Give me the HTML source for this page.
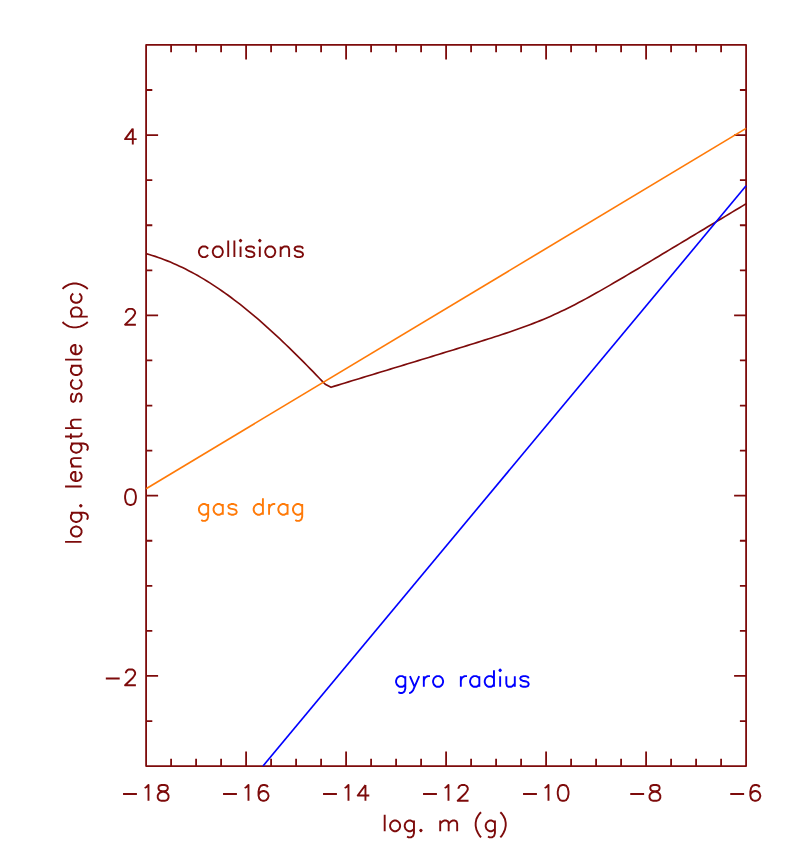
<!DOCTYPE html>
<html><head><meta charset="utf-8"><title>plot</title>
<style>html,body{margin:0;padding:0;background:#fff;font-family:"Liberation Sans",sans-serif}</style></head>
<body>
<svg width="789" height="859" viewBox="0 0 789 859" style="display:block">
<rect width="789" height="859" fill="#fff"/>
<g fill="none" stroke-width="1.9" stroke-linecap="butt" stroke-linejoin="round">
<path d="M146.1 44.95 H746.1 V766.1 H146.1 Z M146.10 766.1 v-14.6 M146.10 44.95 v14.6 M171.10 766.1 v-7.4 M171.10 44.95 v7.4 M196.10 766.1 v-7.4 M196.10 44.95 v7.4 M221.10 766.1 v-7.4 M221.10 44.95 v7.4 M246.10 766.1 v-14.6 M246.10 44.95 v14.6 M271.10 766.1 v-7.4 M271.10 44.95 v7.4 M296.10 766.1 v-7.4 M296.10 44.95 v7.4 M321.10 766.1 v-7.4 M321.10 44.95 v7.4 M346.10 766.1 v-14.6 M346.10 44.95 v14.6 M371.10 766.1 v-7.4 M371.10 44.95 v7.4 M396.10 766.1 v-7.4 M396.10 44.95 v7.4 M421.10 766.1 v-7.4 M421.10 44.95 v7.4 M446.10 766.1 v-14.6 M446.10 44.95 v14.6 M471.10 766.1 v-7.4 M471.10 44.95 v7.4 M496.10 766.1 v-7.4 M496.10 44.95 v7.4 M521.10 766.1 v-7.4 M521.10 44.95 v7.4 M546.10 766.1 v-14.6 M546.10 44.95 v14.6 M571.10 766.1 v-7.4 M571.10 44.95 v7.4 M596.10 766.1 v-7.4 M596.10 44.95 v7.4 M621.10 766.1 v-7.4 M621.10 44.95 v7.4 M646.10 766.1 v-14.6 M646.10 44.95 v14.6 M671.10 766.1 v-7.4 M671.10 44.95 v7.4 M696.10 766.1 v-7.4 M696.10 44.95 v7.4 M721.10 766.1 v-7.4 M721.10 44.95 v7.4 M746.10 766.1 v-14.6 M746.10 44.95 v14.6 M146.1 766.10 h6.2 M746.1 766.10 h-6.2 M146.1 721.03 h6.2 M746.1 721.03 h-6.2 M146.1 675.96 h12.0 M746.1 675.96 h-12.0 M146.1 630.88 h6.2 M746.1 630.88 h-6.2 M146.1 585.81 h6.2 M746.1 585.81 h-6.2 M146.1 540.74 h6.2 M746.1 540.74 h-6.2 M146.1 495.67 h12.0 M746.1 495.67 h-12.0 M146.1 450.60 h6.2 M746.1 450.60 h-6.2 M146.1 405.53 h6.2 M746.1 405.53 h-6.2 M146.1 360.45 h6.2 M746.1 360.45 h-6.2 M146.1 315.38 h12.0 M746.1 315.38 h-12.0 M146.1 270.31 h6.2 M746.1 270.31 h-6.2 M146.1 225.24 h6.2 M746.1 225.24 h-6.2 M146.1 180.17 h6.2 M746.1 180.17 h-6.2 M146.1 135.09 h12.0 M746.1 135.09 h-12.0 M146.1 90.02 h6.2 M746.1 90.02 h-6.2 M146.1 44.95 h6.2 M746.1 44.95 h-6.2" stroke="#7d0b0b" stroke-width="1.8"/>
<path d="M146.10 253.60 L149.14 254.48 L152.17 255.42 L155.21 256.40 L158.24 257.44 L161.28 258.53 L164.31 259.67 L167.35 260.86 L170.38 262.10 L173.42 263.40 L176.46 264.74 L179.49 266.14 L182.53 267.59 L185.56 269.09 L188.60 270.64 L191.63 272.24 L194.67 273.89 L197.71 275.59 L200.74 277.34 L203.78 279.14 L206.81 280.99 L209.85 282.89 L212.88 284.84 L215.92 286.84 L218.95 288.88 L221.99 290.97 L225.03 293.11 L228.06 295.29 L231.10 297.52 L234.13 299.79 L237.17 302.11 L240.20 304.47 L243.24 306.87 L246.27 309.32 L249.31 311.80 L252.35 314.33 L255.38 316.89 L258.42 319.49 L261.45 322.13 L264.49 324.81 L267.52 327.52 L270.56 330.27 L273.59 333.05 L276.63 335.86 L279.67 338.71 L282.70 341.58 L285.74 344.48 L288.77 347.41 L291.81 350.37 L294.84 353.35 L297.88 356.36 L300.92 359.38 L303.95 362.43 L306.99 365.50 L310.02 368.59 L313.06 371.69 L316.09 374.81 L319.13 377.95 L322.16 381.09 L325.20 384.28 L331.04 387.30 L334.53 386.15 L338.02 385.09 L341.50 384.02 L344.99 382.96 L348.48 381.89 L351.97 380.83 L355.46 379.77 L358.94 378.70 L362.43 377.64 L365.92 376.58 L369.41 375.51 L372.89 374.45 L376.38 373.39 L379.87 372.32 L383.36 371.26 L386.85 370.20 L390.33 369.13 L393.82 368.07 L397.31 367.00 L400.80 365.94 L404.29 364.87 L407.77 363.81 L411.26 362.74 L414.75 361.68 L418.24 360.61 L421.73 359.55 L425.21 358.48 L428.70 357.42 L432.19 356.35 L435.68 355.28 L439.16 354.21 L442.65 353.14 L446.14 352.07 L449.63 351.00 L453.12 349.93 L456.60 348.85 L460.09 347.77 L463.58 346.70 L467.07 345.61 L470.56 344.53 L474.04 343.44 L477.53 342.35 L481.02 341.25 L484.51 340.15 L488.00 339.04 L491.48 337.92 L494.97 336.80 L498.46 335.66 L501.95 334.51 L505.43 333.36 L508.92 332.18 L512.41 330.99 L515.90 329.78 L519.39 328.55 L522.87 327.30 L526.36 326.02 L529.85 324.72 L533.34 323.38 L536.83 322.01 L540.31 320.61 L543.80 319.17 L547.29 317.69 L550.78 316.17 L554.27 314.61 L557.75 313.01 L561.24 311.37 L564.73 309.69 L568.22 307.97 L571.71 306.22 L575.19 304.43 L578.68 302.60 L582.17 300.75 L585.66 298.87 L589.14 296.96 L592.63 295.03 L596.12 293.08 L599.61 291.11 L603.10 289.12 L606.58 287.12 L610.07 285.10 L613.56 283.08 L617.05 281.04 L620.54 278.99 L624.02 276.94 L627.51 274.88 L631.00 272.82 L634.49 270.75 L637.98 268.67 L641.46 266.60 L644.95 264.51 L648.44 262.43 L651.93 260.35 L655.41 258.26 L658.90 256.17 L662.39 254.08 L665.88 251.99 L669.37 249.89 L672.85 247.80 L676.34 245.70 L679.83 243.61 L683.32 241.51 L686.81 239.42 L690.29 237.32 L693.78 235.22 L697.27 233.12 L700.76 231.03 L704.25 228.93 L707.73 226.83 L711.22 224.73 L714.71 222.63 L718.20 220.53 L721.68 218.44 L725.17 216.34 L728.66 214.24 L732.15 212.14 L735.64 210.04 L739.12 207.94 L742.61 205.84 L746.10 203.74" stroke="#7d0b0b" stroke-width="1.65"/>
<path d="M146.1 488.7 L746.1 128.4" stroke="#ff7a08" stroke-width="1.65"/>
<path d="M263 766 L746.1 185.8" stroke="#0000ff" stroke-width="1.65"/>
<path d="M123.04 794.02 L136.92 794.02 M144.63 788.00 L146.17 787.25 L148.48 784.99 L148.48 800.80 M161.59 784.99 L159.28 785.74 L158.51 787.25 L158.51 788.75 L159.28 790.26 L160.82 791.01 L163.90 791.76 L166.22 792.52 L167.76 794.02 L168.53 795.53 L168.53 797.79 L167.76 799.29 L166.99 800.05 L164.68 800.80 L161.59 800.80 L159.28 800.05 L158.51 799.29 L157.74 797.79 L157.74 795.53 L158.51 794.02 L160.05 792.52 L162.36 791.76 L165.45 791.01 L166.99 790.26 L167.76 788.75 L167.76 787.25 L166.99 785.74 L164.68 784.99 L161.59 784.99 Z M223.04 794.02 L236.92 794.02 M244.63 788.00 L246.17 787.25 L248.48 784.99 L248.48 800.80 M267.76 787.25 L266.99 785.74 L264.68 784.99 L263.13 784.99 L260.82 785.74 L259.28 788.00 L258.51 791.76 L258.51 795.53 L259.28 798.54 L260.82 800.05 L263.13 800.80 L263.90 800.80 L266.22 800.05 L267.76 798.54 L268.53 796.28 L268.53 795.53 L267.76 793.27 L266.22 791.76 L263.90 791.01 L263.13 791.01 L260.82 791.76 L259.28 793.27 L258.51 795.53 M323.04 794.02 L336.92 794.02 M344.63 788.00 L346.17 787.25 L348.48 784.99 L348.48 800.80 M365.45 784.99 L357.74 795.53 L369.30 795.53 M365.45 784.99 L365.45 800.80 M423.04 794.02 L436.92 794.02 M444.63 788.00 L446.17 787.25 L448.48 784.99 L448.48 800.80 M458.51 788.75 L458.51 788.00 L459.28 786.49 L460.05 785.74 L461.59 784.99 L464.68 784.99 L466.22 785.74 L466.99 786.49 L467.76 788.00 L467.76 789.50 L466.99 791.01 L465.45 793.27 L457.74 800.80 L468.53 800.80 M523.04 794.02 L536.92 794.02 M544.63 788.00 L546.17 787.25 L548.48 784.99 L548.48 800.80 M562.36 784.99 L560.05 785.74 L558.51 788.00 L557.74 791.76 L557.74 794.02 L558.51 797.79 L560.05 800.05 L562.36 800.80 L563.90 800.80 L566.22 800.05 L567.76 797.79 L568.53 794.02 L568.53 791.76 L567.76 788.00 L566.22 785.74 L563.90 784.99 L562.36 784.99 Z M630.25 794.02 L644.13 794.02 M653.38 784.99 L651.07 785.74 L650.30 787.25 L650.30 788.75 L651.07 790.26 L652.61 791.01 L655.69 791.76 L658.01 792.52 L659.55 794.02 L660.32 795.53 L660.32 797.79 L659.55 799.29 L658.78 800.05 L656.47 800.80 L653.38 800.80 L651.07 800.05 L650.30 799.29 L649.53 797.79 L649.53 795.53 L650.30 794.02 L651.84 792.52 L654.15 791.76 L657.24 791.01 L658.78 790.26 L659.55 788.75 L659.55 787.25 L658.78 785.74 L656.47 784.99 L653.38 784.99 Z M730.25 794.02 L744.13 794.02 M759.55 787.25 L758.78 785.74 L756.47 784.99 L754.92 784.99 L752.61 785.74 L751.07 788.00 L750.30 791.76 L750.30 795.53 L751.07 798.54 L752.61 800.05 L754.92 800.80 L755.69 800.80 L758.01 800.05 L759.55 798.54 L760.32 796.28 L760.32 795.53 L759.55 793.27 L758.01 791.76 L755.69 791.01 L754.92 791.01 L752.61 791.76 L751.07 793.27 L750.30 795.53 M132.80 128.58 L125.09 139.12 L136.66 139.12 M132.80 128.58 L132.80 144.39 M125.86 312.63 L125.86 311.88 L126.63 310.37 L127.41 309.62 L128.95 308.87 L132.03 308.87 L133.57 309.62 L134.34 310.37 L135.12 311.88 L135.12 313.39 L134.34 314.89 L132.80 317.15 L125.09 324.68 L135.89 324.68 M129.72 489.16 L127.41 489.91 L125.86 492.17 L125.09 495.93 L125.09 498.19 L125.86 501.96 L127.41 504.22 L129.72 504.97 L131.26 504.97 L133.57 504.22 L135.12 501.96 L135.89 498.19 L135.89 495.93 L135.12 492.17 L133.57 489.91 L131.26 489.16 L129.72 489.16 Z M105.82 678.48 L119.70 678.48 M125.86 673.21 L125.86 672.46 L126.63 670.95 L127.41 670.20 L128.95 669.44 L132.03 669.44 L133.57 670.20 L134.34 670.95 L135.12 672.46 L135.12 673.96 L134.34 675.47 L132.80 677.73 L125.09 685.26 L135.89 685.26 M384.68 814.71 L384.68 831.20 M393.94 820.56 L392.39 821.32 L390.85 822.84 L390.08 825.12 L390.08 826.64 L390.85 828.92 L392.39 830.44 L393.94 831.20 L396.25 831.20 L397.79 830.44 L399.33 828.92 L400.10 826.64 L400.10 825.12 L399.33 822.84 L397.79 821.32 L396.25 820.56 L393.94 820.56 Z M413.98 820.56 L413.98 832.98 L413.21 835.65 L412.44 836.54 L410.90 837.42 L408.59 837.42 L407.04 836.54 M413.98 822.84 L412.44 821.32 L410.90 820.56 L408.59 820.56 L407.04 821.32 L405.50 822.84 L404.73 825.12 L404.73 826.64 L405.50 828.92 L407.04 830.44 L408.59 831.20 L410.90 831.20 L412.44 830.44 L413.98 828.92 M420.92 829.68 L420.15 830.44 L420.92 831.20 L421.69 830.44 L420.92 829.68 Z M440.20 820.56 L440.20 831.20 M440.20 823.60 L442.51 821.32 L444.05 820.56 L446.36 820.56 L447.91 821.32 L448.68 823.60 L448.68 831.20 M448.68 823.60 L450.99 821.32 L452.53 820.56 L454.85 820.56 L456.39 821.32 L457.16 823.60 L457.16 831.20 M481.06 812.20 L479.52 813.72 L477.98 816.00 L476.43 819.04 L475.66 822.84 L475.66 825.88 L476.43 829.68 L477.98 832.98 L479.52 835.65 L481.06 837.42 M494.94 820.56 L494.94 832.98 L494.17 835.65 L493.40 836.54 L491.85 837.42 L489.54 837.42 L488.00 836.54 M494.94 822.84 L493.40 821.32 L491.85 820.56 L489.54 820.56 L488.00 821.32 L486.46 822.84 L485.69 825.12 L485.69 826.64 L486.46 828.92 L488.00 830.44 L489.54 831.20 L491.85 831.20 L493.40 830.44 L494.94 828.92 M500.33 812.20 L501.88 813.72 L503.42 816.00 L504.96 819.04 L505.73 822.84 L505.73 825.88 L504.96 829.68 L503.42 832.98 L501.88 835.65 L500.33 837.42 M65.06 541.92 L81.55 541.92 M70.91 532.70 L71.67 534.23 L73.19 535.77 L75.47 536.54 L76.99 536.54 L79.27 535.77 L80.79 534.23 L81.55 532.70 L81.55 530.39 L80.79 528.85 L79.27 527.31 L76.99 526.54 L75.47 526.54 L73.19 527.31 L71.67 528.85 L70.91 530.39 L70.91 532.70 Z M70.91 512.70 L83.33 512.70 L86.00 513.47 L86.89 514.24 L87.77 515.78 L87.77 518.09 L86.89 519.62 M73.19 512.70 L71.67 514.24 L70.91 515.78 L70.91 518.09 L71.67 519.62 L73.19 521.16 L75.47 521.93 L76.99 521.93 L79.27 521.16 L80.79 519.62 L81.55 518.09 L81.55 515.78 L80.79 514.24 L79.27 512.70 M80.03 505.78 L80.79 506.55 L81.55 505.78 L80.79 505.01 L80.03 505.78 Z M65.06 486.56 L81.55 486.56 M75.47 481.17 L75.47 471.94 L73.95 471.94 L72.43 472.71 L71.67 473.48 L70.91 475.02 L70.91 477.33 L71.67 478.87 L73.19 480.40 L75.47 481.17 L76.99 481.17 L79.27 480.40 L80.79 478.87 L81.55 477.33 L81.55 475.02 L80.79 473.48 L79.27 471.94 M70.91 466.56 L81.55 466.56 M73.95 466.56 L71.67 464.25 L70.91 462.72 L70.91 460.41 L71.67 458.87 L73.95 458.10 L81.55 458.10 M70.91 443.49 L83.33 443.49 L86.00 444.26 L86.89 445.03 L87.77 446.57 L87.77 448.88 L86.89 450.41 M73.19 443.49 L71.67 445.03 L70.91 446.57 L70.91 448.88 L71.67 450.41 L73.19 451.95 L75.47 452.72 L76.99 452.72 L79.27 451.95 L80.79 450.41 L81.55 448.88 L81.55 446.57 L80.79 445.03 L79.27 443.49 M65.06 436.57 L78.51 436.57 L80.79 435.80 L81.55 434.26 L81.55 432.73 M70.91 438.88 L70.91 433.50 M65.06 428.11 L81.55 428.11 M73.95 428.11 L71.67 425.81 L70.91 424.27 L70.91 421.96 L71.67 420.42 L73.95 419.65 L81.55 419.65 M73.19 393.51 L71.67 394.28 L70.91 396.58 L70.91 398.89 L71.67 401.20 L73.19 401.97 L74.71 401.20 L75.47 399.66 L76.23 395.81 L76.99 394.28 L78.51 393.51 L79.27 393.51 L80.79 394.28 L81.55 396.58 L81.55 398.89 L80.79 401.20 L79.27 401.97 M73.19 379.66 L71.67 381.20 L70.91 382.74 L70.91 385.05 L71.67 386.59 L73.19 388.12 L75.47 388.89 L76.99 388.89 L79.27 388.12 L80.79 386.59 L81.55 385.05 L81.55 382.74 L80.79 381.20 L79.27 379.66 M70.91 365.82 L81.55 365.82 M73.19 365.82 L71.67 367.36 L70.91 368.90 L70.91 371.21 L71.67 372.74 L73.19 374.28 L75.47 375.05 L76.99 375.05 L79.27 374.28 L80.79 372.74 L81.55 371.21 L81.55 368.90 L80.79 367.36 L79.27 365.82 M65.06 359.67 L81.55 359.67 M75.47 354.29 L75.47 345.06 L73.95 345.06 L72.43 345.83 L71.67 346.60 L70.91 348.14 L70.91 350.44 L71.67 351.98 L73.19 353.52 L75.47 354.29 L76.99 354.29 L79.27 353.52 L80.79 351.98 L81.55 350.44 L81.55 348.14 L80.79 346.60 L79.27 345.06 M62.55 321.99 L64.07 323.53 L66.35 325.07 L69.39 326.60 L73.19 327.37 L76.23 327.37 L80.03 326.60 L83.33 325.07 L86.00 323.53 L87.77 321.99 M70.91 316.61 L87.77 316.61 M73.19 316.61 L71.67 315.07 L70.91 313.53 L70.91 311.22 L71.67 309.69 L73.19 308.15 L75.47 307.38 L76.99 307.38 L79.27 308.15 L80.79 309.69 L81.55 311.22 L81.55 313.53 L80.79 315.07 L79.27 316.61 M73.19 293.54 L71.67 295.07 L70.91 296.61 L70.91 298.92 L71.67 300.46 L73.19 302.00 L75.47 302.76 L76.99 302.76 L79.27 302.00 L80.79 300.46 L81.55 298.92 L81.55 296.61 L80.79 295.07 L79.27 293.54 M62.55 288.92 L64.07 287.38 L66.35 285.85 L69.39 284.31 L73.19 283.54 L76.23 283.54 L80.03 284.31 L83.33 285.85 L86.00 287.38 L87.77 288.92 M208.16 248.74 L206.62 247.22 L205.08 246.46 L202.77 246.46 L201.23 247.22 L199.68 248.74 L198.91 251.02 L198.91 252.54 L199.68 254.82 L201.23 256.34 L202.77 257.10 L205.08 257.10 L206.62 256.34 L208.16 254.82 M216.65 246.46 L215.10 247.22 L213.56 248.74 L212.79 251.02 L212.79 252.54 L213.56 254.82 L215.10 256.34 L216.65 257.10 L218.96 257.10 L220.50 256.34 L222.04 254.82 L222.81 252.54 L222.81 251.02 L222.04 248.74 L220.50 247.22 L218.96 246.46 L216.65 246.46 Z M228.21 240.61 L228.21 257.10 M234.38 240.61 L234.38 257.10 M239.78 240.61 L240.55 241.44 L241.32 240.61 L240.55 239.77 L239.78 240.61 Z M240.55 246.46 L240.55 257.10 M254.43 248.74 L253.65 247.22 L251.34 246.46 L249.03 246.46 L246.72 247.22 L245.94 248.74 L246.72 250.26 L248.26 251.02 L252.11 251.78 L253.65 252.54 L254.43 254.06 L254.43 254.82 L253.65 256.34 L251.34 257.10 L249.03 257.10 L246.72 256.34 L245.94 254.82 M259.05 240.61 L259.82 241.44 L260.59 240.61 L259.82 239.77 L259.05 240.61 Z M259.82 246.46 L259.82 257.10 M269.07 246.46 L267.53 247.22 L265.99 248.74 L265.22 251.02 L265.22 252.54 L265.99 254.82 L267.53 256.34 L269.07 257.10 L271.39 257.10 L272.93 256.34 L274.47 254.82 L275.24 252.54 L275.24 251.02 L274.47 248.74 L272.93 247.22 L271.39 246.46 L269.07 246.46 Z M280.64 246.46 L280.64 257.10 M280.64 249.50 L282.95 247.22 L284.49 246.46 L286.81 246.46 L288.35 247.22 L289.12 249.50 L289.12 257.10 M303.00 248.74 L302.23 247.22 L299.91 246.46 L297.60 246.46 L295.29 247.22 L294.52 248.74 L295.29 250.26 L296.83 251.02 L300.69 251.78 L302.23 252.54 L303.00 254.06 L303.00 254.82 L302.23 256.34 L299.91 257.10 L297.60 257.10 L295.29 256.34 L294.52 254.82" stroke="#7d0b0b"/>
<path d="M208.16 504.06 L208.16 516.48 L207.39 519.15 L206.62 520.04 L205.08 520.92 L202.77 520.92 L201.23 520.04 M208.16 506.34 L206.62 504.82 L205.08 504.06 L202.77 504.06 L201.23 504.82 L199.68 506.34 L198.91 508.62 L198.91 510.14 L199.68 512.42 L201.23 513.94 L202.77 514.70 L205.08 514.70 L206.62 513.94 L208.16 512.42 M222.81 504.06 L222.81 514.70 M222.81 506.34 L221.27 504.82 L219.73 504.06 L217.42 504.06 L215.88 504.82 L214.33 506.34 L213.56 508.62 L213.56 510.14 L214.33 512.42 L215.88 513.94 L217.42 514.70 L219.73 514.70 L221.27 513.94 L222.81 512.42 M236.69 506.34 L235.92 504.82 L233.61 504.06 L231.29 504.06 L228.98 504.82 L228.21 506.34 L228.98 507.86 L230.52 508.62 L234.38 509.38 L235.92 510.14 L236.69 511.66 L236.69 512.42 L235.92 513.94 L233.61 514.70 L231.29 514.70 L228.98 513.94 L228.21 512.42 M262.91 498.21 L262.91 514.70 M262.91 506.34 L261.36 504.82 L259.82 504.06 L257.51 504.06 L255.97 504.82 L254.43 506.34 L253.65 508.62 L253.65 510.14 L254.43 512.42 L255.97 513.94 L257.51 514.70 L259.82 514.70 L261.36 513.94 L262.91 512.42 M269.07 504.06 L269.07 514.70 M269.07 508.62 L269.85 506.34 L271.39 504.82 L272.93 504.06 L275.24 504.06 M287.58 504.06 L287.58 514.70 M287.58 506.34 L286.04 504.82 L284.49 504.06 L282.18 504.06 L280.64 504.82 L279.10 506.34 L278.33 508.62 L278.33 510.14 L279.10 512.42 L280.64 513.94 L282.18 514.70 L284.49 514.70 L286.04 513.94 L287.58 512.42 M302.23 504.06 L302.23 516.48 L301.46 519.15 L300.69 520.04 L299.14 520.92 L296.83 520.92 L295.29 520.04 M302.23 506.34 L300.69 504.82 L299.14 504.06 L296.83 504.06 L295.29 504.82 L293.75 506.34 L292.98 508.62 L292.98 510.14 L293.75 512.42 L295.29 513.94 L296.83 514.70 L299.14 514.70 L300.69 513.94 L302.23 512.42" stroke="#ff7a08"/>
<path d="M405.31 676.16 L405.31 688.58 L404.54 691.25 L403.77 692.14 L402.23 693.02 L399.92 693.02 L398.38 692.14 M405.31 678.44 L403.77 676.92 L402.23 676.16 L399.92 676.16 L398.38 676.92 L396.83 678.44 L396.06 680.72 L396.06 682.24 L396.83 684.52 L398.38 686.04 L399.92 686.80 L402.23 686.80 L403.77 686.04 L405.31 684.52 M409.94 676.16 L414.57 686.80 M419.19 676.16 L414.57 686.80 L413.02 690.36 L411.48 692.14 L409.94 693.02 L409.17 693.02 M423.82 676.16 L423.82 686.80 M423.82 680.72 L424.59 678.44 L426.13 676.92 L427.67 676.16 L429.99 676.16 M436.93 676.16 L435.38 676.92 L433.84 678.44 L433.07 680.72 L433.07 682.24 L433.84 684.52 L435.38 686.04 L436.93 686.80 L439.24 686.80 L440.78 686.04 L442.32 684.52 L443.09 682.24 L443.09 680.72 L442.32 678.44 L440.78 676.92 L439.24 676.16 L436.93 676.16 Z M460.83 676.16 L460.83 686.80 M460.83 680.72 L461.60 678.44 L463.14 676.92 L464.68 676.16 L467.00 676.16 M479.33 676.16 L479.33 686.80 M479.33 678.44 L477.79 676.92 L476.25 676.16 L473.93 676.16 L472.39 676.92 L470.85 678.44 L470.08 680.72 L470.08 682.24 L470.85 684.52 L472.39 686.04 L473.93 686.80 L476.25 686.80 L477.79 686.04 L479.33 684.52 M493.98 670.31 L493.98 686.80 M493.98 678.44 L492.44 676.92 L490.90 676.16 L488.58 676.16 L487.04 676.92 L485.50 678.44 L484.73 680.72 L484.73 682.24 L485.50 684.52 L487.04 686.04 L488.58 686.80 L490.90 686.80 L492.44 686.04 L493.98 684.52 M499.38 670.31 L500.15 671.14 L500.92 670.31 L500.15 669.47 L499.38 670.31 Z M500.15 676.16 L500.15 686.80 M506.32 676.16 L506.32 683.76 L507.09 686.04 L508.63 686.80 L510.94 686.80 L512.48 686.04 L514.80 683.76 M514.80 676.16 L514.80 686.80 M528.67 678.44 L527.90 676.92 L525.59 676.16 L523.28 676.16 L520.97 676.92 L520.19 678.44 L520.97 679.96 L522.51 680.72 L526.36 681.48 L527.90 682.24 L528.67 683.76 L528.67 684.52 L527.90 686.04 L525.59 686.80 L523.28 686.80 L520.97 686.04 L520.19 684.52" stroke="#0000ff"/>
</g></svg>
</body></html>
